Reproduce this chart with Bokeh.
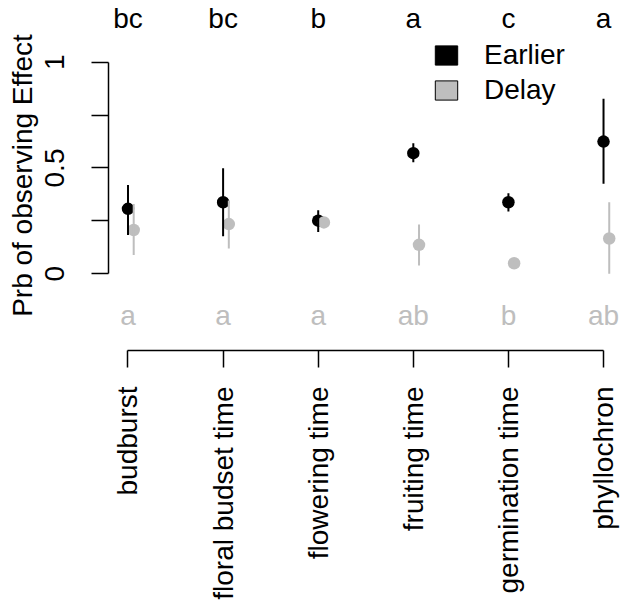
import math
from bokeh.plotting import figure
from bokeh.models import (ColumnDataSource, Range1d, FixedTicker, Legend, LegendItem)
from bokeh.core.properties import value
from bokeh.embed import file_html
from bokeh.resources import INLINE

categories = ["budburst", "floral budset time", "flowering time",
              "fruiting time", "germination time", "phyllochron"]
earlier_mean = [0.307, 0.338, 0.251, 0.570, 0.338, 0.625]
earlier_lo = [0.183, 0.177, 0.198, 0.527, 0.294, 0.425]
earlier_hi = [0.420, 0.499, 0.300, 0.617, 0.381, 0.827]
delay_mean = [0.207, 0.235, 0.243, 0.137, 0.050, 0.167]
delay_lo = [0.089, 0.120, 0.230, 0.039, 0.042, 0.000]
delay_hi = [0.330, 0.346, 0.256, 0.233, 0.058, 0.338]
earlier_letters = ["bc", "bc", "b", "a", "c", "a"]
delay_letters = ["a", "a", "a", "ab", "b", "ab"]
y_ticks = [0, 0.25, 0.5, 0.75, 1]

FONT = "Liberation Sans"
FS = "28px"
GRAY = "#bebebe"
OFFSET = 0.06

xs = list(range(1, len(categories) + 1))
xs_delay = [x + OFFSET for x in xs]

src_e = ColumnDataSource(dict(x=xs, m=earlier_mean, lo=earlier_lo, hi=earlier_hi,
                              lab=earlier_letters))
src_d = ColumnDataSource(dict(x=xs_delay, xl=xs, m=delay_mean, lo=delay_lo, hi=delay_hi,
                              lab=delay_letters))

p = figure(frame_width=513, frame_height=350, output_backend="svg", toolbar_location=None,
           x_range=Range1d(0.795, 6.189), y_range=Range1d(-0.3625, 1.2916),
           min_border_left=108, min_border_right=0, min_border_top=0, min_border_bottom=10)
p.outline_line_color = None
p.xgrid.visible = False
p.ygrid.visible = False
p.background_fill_color = "white"
p.border_fill_color = "white"

# points
p.scatter("x", "m", source=src_e, size=12.5, fill_color="black", line_color=None)
p.scatter("x", "m", source=src_d, size=12.5, fill_color=GRAY, line_color=None)
# intervals
p.segment(x0="x", y0="lo", x1="x", y1="hi", source=src_e, line_color="black", line_width=2)
p.segment(x0="x", y0="lo", x1="x", y1="hi", source=src_d, line_color=GRAY, line_width=2)

# significance letters
p.text(x="x", y=1.208, text="lab", source=src_e, text_font=value(FONT), text_font_size=FS,
       text_align="center", text_baseline="alphabetic", text_color="black")
p.text(x="xl", y=-0.197, text="lab", source=src_d, text_font=value(FONT), text_font_size=FS,
       text_align="center", text_baseline="alphabetic", text_color=GRAY)

# y axis
ya = p.yaxis[0]
ya.ticker = FixedTicker(ticks=y_ticks)
ya.bounds = (0, 1)
ya.major_label_overrides = {0: "0", 0.25: "", 0.5: "0.5", 0.75: "", 1: "1"}
ya.major_label_orientation = "vertical"
ya.major_tick_out = 17
ya.major_tick_in = 0
ya.minor_tick_out = 0
ya.minor_tick_in = 0
ya.axis_line_width = 1.5
ya.major_tick_line_width = 1.5
ya.major_label_text_font = FONT
ya.major_label_text_font_size = FS
ya.major_label_text_color = "black"
ya.major_label_standoff = 27
ya.axis_label = "Prb of observing Effect"
ya.axis_label_text_font = FONT
ya.axis_label_text_font_size = FS
ya.axis_label_text_font_style = "normal"
ya.axis_label_text_color = "black"
ya.axis_label_standoff = 5

# x axis
xa = p.xaxis[0]
xa.ticker = FixedTicker(ticks=xs)
xa.bounds = (1, 6)
xa.major_label_overrides = {x: c for x, c in zip(xs, categories)}
xa.major_label_orientation = math.pi / 2
xa.major_tick_out = 17
xa.major_tick_in = 0
xa.minor_tick_out = 0
xa.minor_tick_in = 0
xa.axis_line_width = 1.5
xa.major_tick_line_width = 1.5
xa.major_label_text_font = FONT
xa.major_label_text_font_size = FS
xa.major_label_text_color = "black"
xa.major_label_standoff = 19

# legend with square keys (renderers hold a single non-drawable row)
nan = float("nan")
r_e = p.quad(source=ColumnDataSource(dict(l=[nan], r=[nan], t=[nan], b=[nan])),
             left="l", right="r", top="t", bottom="b",
             fill_color="black", line_color="black", line_width=1)
r_d = p.quad(source=ColumnDataSource(dict(l=[nan], r=[nan], t=[nan], b=[nan])),
             left="l", right="r", top="t", bottom="b",
             fill_color=GRAY, line_color="black", line_width=1)
legend = Legend(items=[LegendItem(label="Earlier", renderers=[r_e], index=0),
                       LegendItem(label="Delay", renderers=[r_d], index=0)],
                location=(324, 244.5), padding=0, margin=0, spacing=3,
                glyph_width=28, glyph_height=24, label_standoff=24,
                label_text_font=FONT, label_text_font_size=FS, label_text_color="black",
                border_line_color=None, background_fill_alpha=0)
p.add_layout(legend)

open("out.html", "w").write(file_html(p, INLINE))
